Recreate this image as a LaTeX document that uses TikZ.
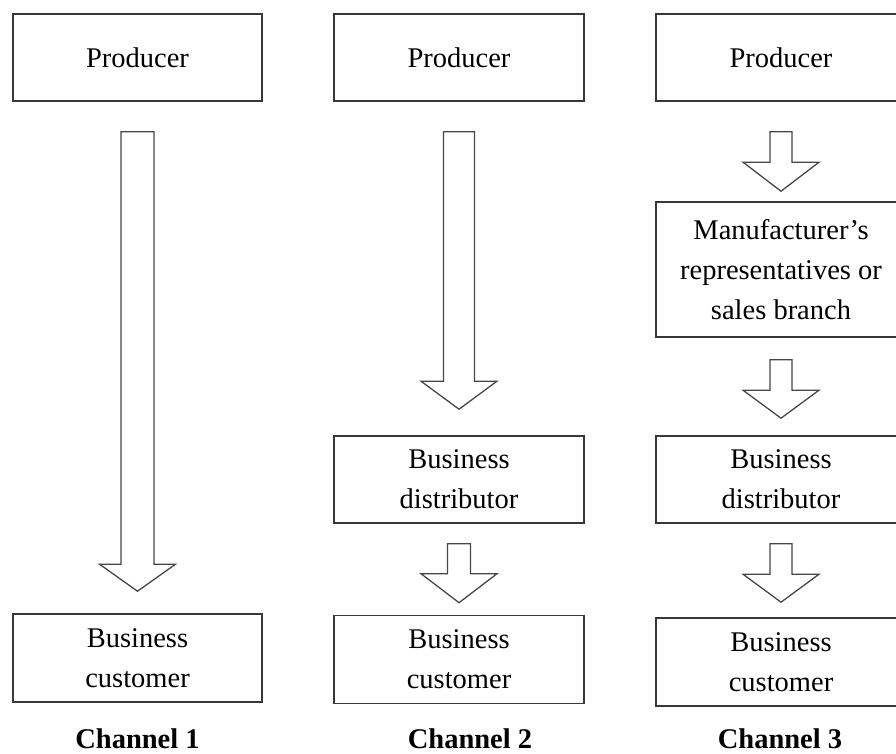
\documentclass[tikz,border=0pt]{standalone}
\usepackage{fontspec}
\setmainfont{Liberation Serif}
\usetikzlibrary{calc}
\tikzset{
  box/.style={draw=black!78, line width=1.6pt, fill=white, minimum width=249pt,
    inner sep=0pt, align=center, font=\fontsize{28.5}{40}\selectfont},
  chan/.style={anchor=base, inner sep=0pt, font=\fontsize{28.5}{32}\selectfont\bfseries},
  blockarr/.style={draw=black!72, line width=1.3pt, line join=miter, fill=white}
}
% #1 from node, #2 to node, #3 gap below source, #4 gap above target, #5 head length, #6 shaft half width
\newcommand\blockarrow[6]{%
  \draw[blockarr] let \p1=(#1.south), \p2=(#2.north) in
    (\x1-#6pt,\y1-#3pt) -- (\x1+#6pt,\y1-#3pt) -- (\x1+#6pt,\y2+#4pt+#5pt)
    -- (\x1+38pt,\y2+#4pt+#5pt) -- (\x1,\y2+#4pt) -- (\x1-38pt,\y2+#4pt+#5pt)
    -- (\x1-#6pt,\y2+#4pt+#5pt) -- cycle;}
\begin{document}
\begin{tikzpicture}[x=1pt,y=-1pt]
\useasboundingbox (0,0) rectangle (896,753);
\clip (0,0) rectangle (896,753);
% Channel 1
\node[box, minimum height=87pt] (p1) at (137.5,57.5) {Producer};
\node[box, minimum height=88pt] (c1) at (137.5,658) {Business\\customer};
\node[chan] (ch1) at (137.5,748) {Channel 1};
% Channel 2
\node[box, minimum width=250pt, minimum height=87pt] (p2) at (459,57.5) {Producer};
\node[box, minimum width=250pt, minimum height=87pt] (d2) at (459,479.5) {Business\\distributor};
\node[box, minimum width=250pt, minimum height=88pt] (c2) at (459,659.5) {Business\\customer};
\node[chan] (ch2) at (470,748) {Channel 2};
% Channel 3
\node[box, minimum width=250pt, minimum height=87pt] (p3) at (781,57.5) {Producer};
\node[box, minimum width=250pt, minimum height=135pt] (m3) at (781,269.5) {Manufacturer's\\representatives or\\sales branch};
\node[box, minimum width=250pt, minimum height=87pt] (d3) at (781,479.5) {Business\\distributor};
\node[box, minimum width=250pt, minimum height=88pt] (c3) at (781,662) {Business\\customer};
\node[chan] (ch3) at (780,748) {Channel 3};
% arrows
\blockarrow{p1}{c1}{30}{22}{27}{16.5}
\blockarrow{p2}{d2}{30}{26}{28}{15.5}
\blockarrow{d2}{c2}{20}{12}{29}{11.5}
\blockarrow{p3}{m3}{30}{10}{29}{11}
\blockarrow{m3}{d3}{22}{17}{28}{11}
\blockarrow{d3}{c3}{20}{15}{28}{11}
\end{tikzpicture}
\end{document}
